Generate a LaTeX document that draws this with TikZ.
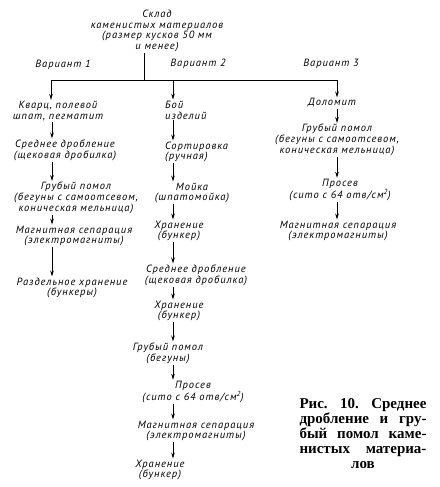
\documentclass[tikz,border=0pt]{standalone}
\usepackage{fontspec}
\setmainfont[LetterSpace=9]{PT Sans}
\newfontfamily\capfont{Liberation Serif}
\usetikzlibrary{arrows.meta}
\tikzset{
  box/.style={inner sep=1pt, align=center, font=\fontsize{10.5}{10.8}\selectfont\itshape},
  boxl/.style={box, align=left},
  line/.style={line width=0.9pt},
  flow/.style={line, -{Stealth[length=6pt,width=3.6pt]}},
  caption/.style={font=\capfont\bfseries\fontsize{15}{15}\selectfont, align=center, inner sep=0pt}
}
\begin{document}
\begin{tikzpicture}[x=1pt,y=-1pt]
\useasboundingbox (0,0) rectangle (439,487);
% top
\node[box] (sklad) at (157,31) {Склад\\каменистых материалов\\(размер кусков 50 мм\\и менее)};
\node[box] (v1) at (63,65) {Вариант 1};
\node[box] (v2) at (198,64) {Вариант 2};
\node[box] (v3) at (331,64) {Вариант 3};
\coordinate (j) at (144,80);
\coordinate (b1) at (51,80);
\coordinate (b2) at (173,80);
\coordinate (b3) at (337,80);
% column 1
\node[box] (n11) at (58,111) {Кварц, полевой\\шпат, пегматит};
\node[box] (n12) at (65,150) {Среднее дробление\\(щековая дробилка)};
\node[box] (n13) at (76,198) {Грубый помол\\(бегуны с самоотсевом,\\коническая мельница)};
\node[box] (n14) at (74,236) {Магнитная сепарация\\(электромагниты)};
\node[box] (n15) at (72,288) {Раздельное хранение\\(бункеры)};
% column 2
\node[boxl, anchor=west] (n21) at (164,110) {Бой\\изделий};
\node[boxl, anchor=west] (n22) at (164,152) {Сортировка\\(ручная)};
\node[box] (n23) at (192,193) {Мойка\\(шпатомойка)};
\node[box] (n24) at (179,231) {Хранение\\(бункер)};
\node[box] (n25) at (196,275) {Среднее дробление\\(щековая дробилка)};
\node[box] (n26) at (179,311) {Хранение\\(бункер)};
\node[box] (n27) at (168,353) {Грубый помол\\(бегуны)};
\node[box] (n28) at (193,392) {Просев\\(сито с 64 отв/см\textsuperscript{2})};
\node[box] (n29) at (196,431) {Магнитная сепарация\\(электромагниты)};
\node[box] (n210) at (160,470) {Хранение\\(бункер)};
% column 3
\node[box] (n31) at (332,103) {Доломит};
\node[box] (n32) at (337,140) {Грубый помол\\(бегуны с самоотсевом,\\коническая мельница)};
\node[box] (n33) at (340,190) {Просев\\(сито с 64 отв/см\textsuperscript{2})};
\node[box] (n34) at (338,231) {Магнитная сепарация\\(электромагниты)};
% caption
\node[caption] (cap) at (363,434) {\hbox to 127pt{Рис.\hfill 10.\hfill Среднее}\\
\hbox to 127pt{дробление\hfill и\hfill гру-}\\
\hbox to 127pt{бый\hfill помол\hfill каме-}\\
\hbox to 127pt{нистых\hfill материа-}\\
лов};
% connectors
\draw[line] (sklad.south -| j) -- (j);
\draw[line] (b1) -- (b3);
\draw[flow] (b1) -- (n11.north -| b1);
\draw[flow] (b2) -- (n21.north -| b2);
\draw[flow] (b3) -- (n31.north -| b3);
\coordinate (c1) at (52,0);
\draw[flow] (n11.south -| c1) -- (n12.north -| c1);
\draw[flow] (n12.south -| c1) -- (n13.north -| c1);
\draw[flow] (n13.south -| c1) -- (n14.north -| c1);
\draw[flow] (n14.south -| c1) -- (n15.north -| c1);
\draw[flow] (n21.south -| b2) -- (n22.north -| b2);
\draw[flow] (n22.south -| b2) -- (n23.north -| b2);
\draw[flow] (n23.south -| b2) -- (n24.north -| b2);
\draw[flow] (n24.south -| b2) -- (n25.north -| b2);
\draw[flow] (n25.south -| b2) -- (n26.north -| b2);
\draw[flow] (n26.south -| b2) -- (n27.north -| b2);
\draw[flow] (n27.south -| b2) -- (n28.north -| b2);
\draw[flow] (n28.south -| b2) -- (n29.north -| b2);
\draw[flow] (n29.south -| b2) -- (n210.north -| b2);
\draw[flow] (n31.south -| b3) -- (n32.north -| b3);
\draw[flow] (n32.south -| b3) -- (n33.north -| b3);
\draw[flow] (n33.south -| b3) -- (n34.north -| b3);
\end{tikzpicture}
\end{document}
